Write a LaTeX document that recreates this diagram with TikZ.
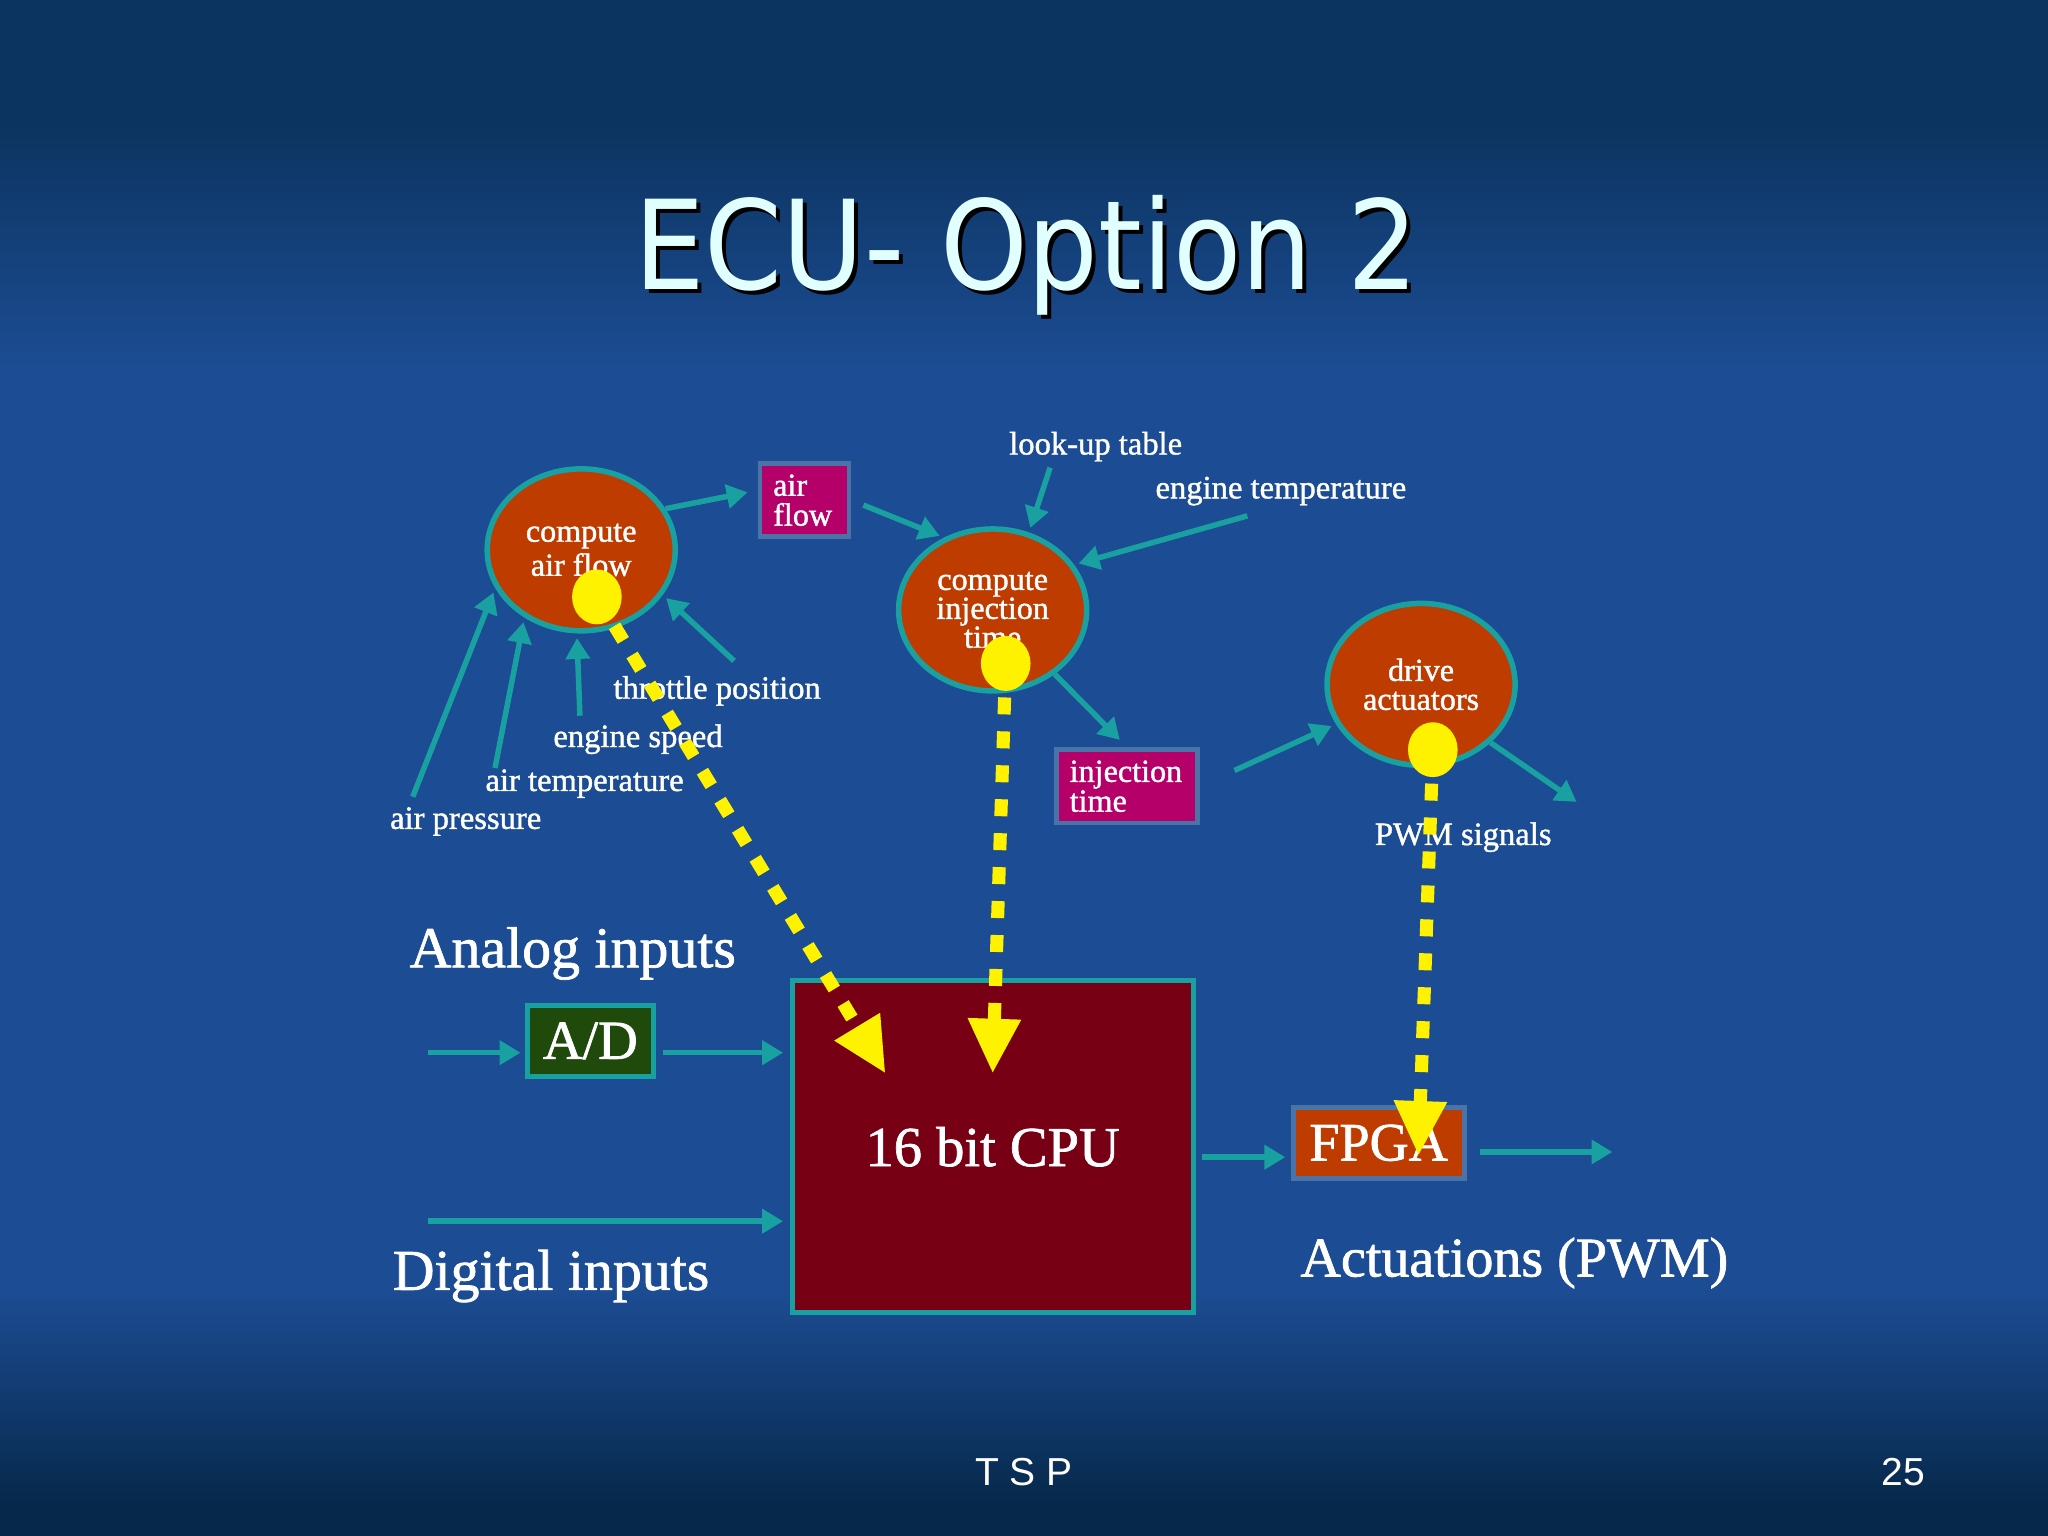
\documentclass[tikz,border=0pt]{standalone}
\usepackage{fontspec}
\setmainfont{Liberation Serif}[FakeBold=1.2]
\newfontfamily\titlefont{DejaVu Sans Condensed}
\newfontfamily\footfont{Liberation Sans}
\usetikzlibrary{shapes.geometric, arrows.meta}
\definecolor{bgtop}{HTML}{0C3460}
\definecolor{bgmid}{HTML}{1C4C93}
\definecolor{bgbot}{HTML}{06284A}
\definecolor{tealline}{HTML}{19A0A0}
\definecolor{rust}{HTML}{BF3C00}
\definecolor{plum}{HTML}{B5006A}
\definecolor{wine}{HTML}{780014}
\definecolor{moss}{HTML}{1F4A0C}
\definecolor{slate}{HTML}{4A74A8}
\definecolor{ice}{HTML}{E2FFFF}
\pgfdeclareverticalshading{slide}{100bp}{color(0bp)=(bgbot); color(26bp)=(bgbot); color(33bp)=(bgmid); color(63bp)=(bgmid); color(71bp)=(bgtop); color(100bp)=(bgtop)}
\tikzstyle{proc}=[shape=ellipse,minimum width=1.44cm,minimum height=1.24cm,inner sep=0,fill=rust,draw=tealline,line width=1.2pt,text=white,align=center,font=\fontsize{7}{6.3}\selectfont]
\tikzstyle{store}=[rectangle,fill=plum,draw=slate,line width=1pt,text=white,align=left,inner xsep=0.1cm,inner ysep=0,minimum height=0.56cm,font=\fontsize{7}{6.5}\selectfont]
\tikzstyle{hw}=[rectangle,draw=tealline,line width=1.1pt,text=white,inner sep=0]
\tikzstyle{lbl}=[text=white,anchor=west,inner sep=0,font=\fontsize{7.1}{8}\selectfont]
\tikzstyle{biglbl}=[text=white,anchor=west,inner sep=0,font=\fontsize{12.6}{14}\selectfont]
\tikzstyle{yellowdot}=[shape=ellipse,minimum width=0.38cm,minimum height=0.42cm,inner sep=0,fill=yellow]
\tikzstyle{tealarrow}=[tealline,line width=1.2pt,-{Triangle[length=1.6mm,width=1.8mm]},shorten >=1pt]
\tikzstyle{ptr}=[yellow,line width=1mm,dash pattern=on 1.3mm off 1.3mm,-{Triangle[length=4.2mm,width=3.8mm]}]

\begin{document}
\begin{tikzpicture}
\shade[shading=slide] (0,0) rectangle (15.68,11.76);

\node[font=\titlefont\fontsize{27}{27}\selectfont,text=black,anchor=base] (titleshadow) at (7.89,9.51) {ECU- Option 2};
\node[font=\titlefont\fontsize{27}{27}\selectfont,text=ice,anchor=base] (title) at (7.86,9.54) {ECU- Option 2};

\node[proc] (A) at (4.45,7.55) {compute\\air flow};
\node[proc] (B) at (7.60,7.09) {compute\\injection\\time};
\node[proc] (C) at (10.88,6.52) {drive\\actuators};
\node[store,text width=0.48cm] (airflow) at (6.16,7.93) {air\\flow};
\node[store,text width=0.88cm] (injbox) at (8.63,5.74) {injection\\time};

\node[hw,fill=moss,minimum width=0.96cm,minimum height=0.55cm,font=\fontsize{12}{12}\selectfont] (AD) at (4.52,3.79) {A/D};
\node[hw,fill=wine,minimum width=3.07cm,minimum height=2.54cm,font=\fontsize{12.3}{12.3}\selectfont] (cpu) at (7.60,2.98) {16 bit CPU};
\node[hw,fill=rust,draw=slate,minimum width=1.31cm,minimum height=0.54cm,font=\fontsize{11.8}{11.8}\selectfont] (fpga) at (10.555,3.01) {FPGA};

\foreach \name/\x/\y/\txt in {lut/7.72/8.34/look-up table, etemp/8.84/8.00/engine temperature,
	thpos/4.69/6.47/throttle position, espeed/4.23/6.10/engine speed,
	atemp/3.71/5.76/air temperature, apres/2.98/5.47/air pressure, pwm/10.52/5.35/PWM signals}
	\node[lbl] (\name) at (\x,\y) {\txt};

\node[biglbl] (analog) at (3.13,4.46) {Analog inputs};
\node[biglbl] (digital) at (3.00,1.99) {Digital inputs};
\node[biglbl,font=\fontsize{12.2}{14}\selectfont] (actuations) at (9.95,2.09) {Actuations (PWM)};

\node[font=\footfont\fontsize{8.5}{8.5}\selectfont,text=white] (footer) at (7.84,0.49) {T S P};
\node[font=\footfont\fontsize{8.5}{8.5}\selectfont,text=white] (pageno) at (14.57,0.49) {25};

% free ends of the inputs and outputs
\coordinate (apresT) at (3.16,5.66);
\coordinate (atempT) at (3.79,5.88);
\coordinate (espeedT) at (4.44,6.28);
\coordinate (thposT) at (5.62,6.70);
\coordinate (lutT) at (8.04,8.18);
\coordinate (etempT) at (9.55,7.81);
\coordinate (outC) at (12.10,5.60);
\coordinate (adin) at (3.28,3.70);
\coordinate (digin) at (3.28,2.41);
\coordinate (cpuout) at (9.20,2.90);
\coordinate (fpgaout) at (12.38,2.94);

\foreach \src/\ang in {apresT/204, atempT/230, espeedT/267, thposT/331}
	\draw[tealarrow] (\src) -- (A.\ang);
\draw[tealarrow,shorten >=0.08cm] (A.26) -- (airflow.168);
\draw[tealarrow,shorten <=0.1cm] (airflow.east) -- (B.124);
\draw[tealarrow] (lutT) -- (B.65);
\draw[tealarrow] (etempT) -- (B.29);
\draw[tealarrow,shorten >=0.08cm] (B.314) -- (injbox.north);
\draw[tealarrow,shorten <=0.29cm] (injbox.east) -- (C.205);
\draw[tealarrow] (C.320) -- (outC);

\draw[tealarrow] (adin) -- (adin -| AD.west);
\draw[tealarrow,shorten <=0.06cm,shorten >=0.05cm] (AD.east |- adin) -- (adin -| cpu.west);
\draw[tealarrow,shorten >=0.05cm] (digin) -- (digin -| cpu.west);
\draw[tealarrow,shorten >=0.04cm] (cpuout) -- (cpuout -| fpga.west);
\draw[tealarrow,shorten <=0.1cm] (fpga.east |- fpgaout) -- (fpgaout);

\coordinate (tipA) at (6.78,3.54);
\coordinate (tipB) at (7.60,3.54);
\coordinate (tipC) at (10.86,2.91);
\draw[ptr] (4.57,7.19) -- (tipA);
\draw[ptr] (7.70,6.68) -- (tipB);
\draw[ptr] (10.97,6.02) -- (tipC);
\node[yellowdot] (dotA) at (4.57,7.19) {};
\node[yellowdot] (dotB) at (7.70,6.68) {};
\node[yellowdot] (dotC) at (10.97,6.02) {};
\end{tikzpicture}
\end{document}
